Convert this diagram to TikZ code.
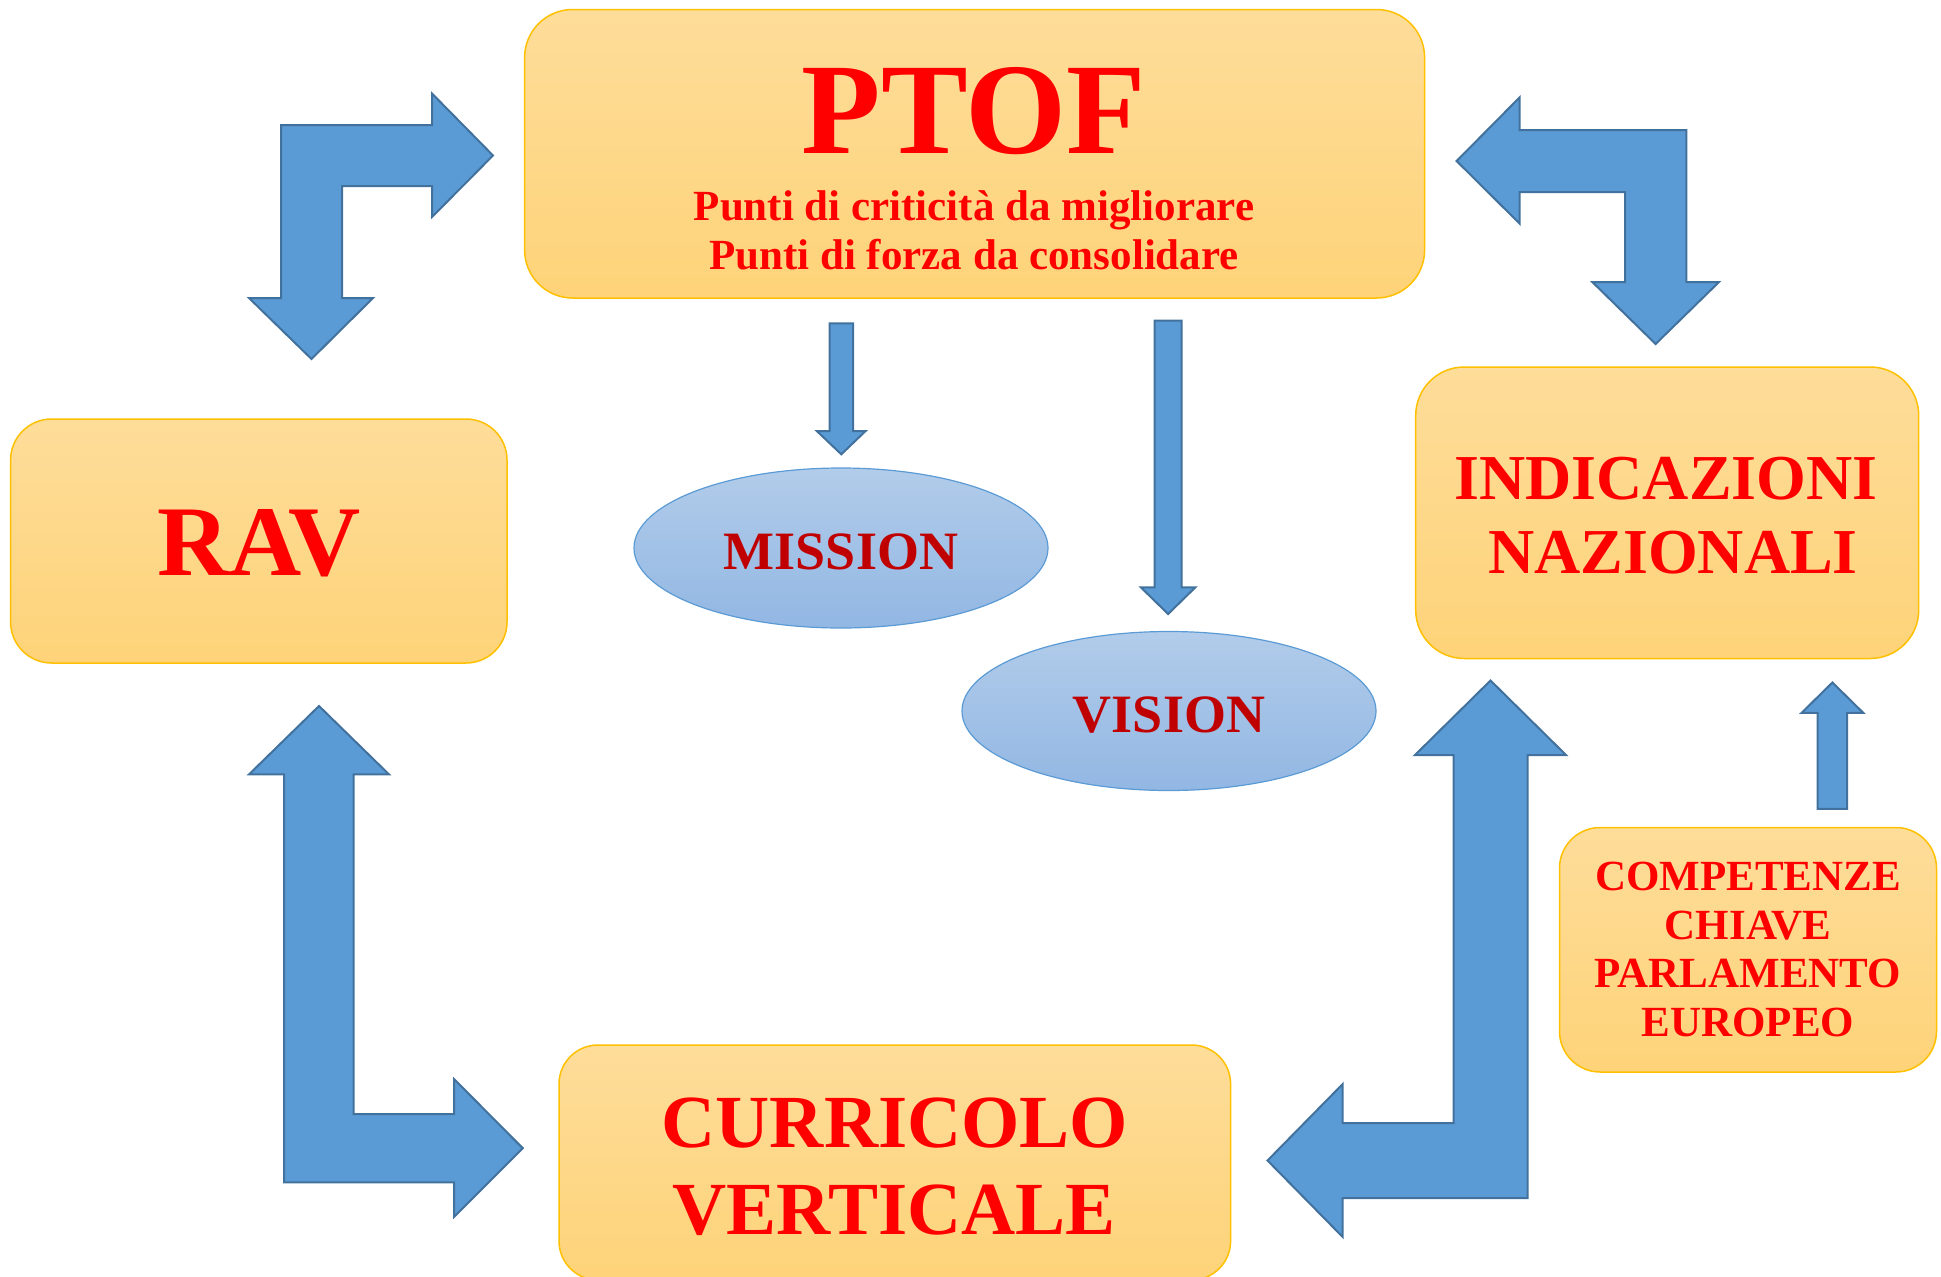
\documentclass[tikz,border=0pt]{standalone}
\usepackage{fontspec}
\setmainfont{Liberation Serif}
\usetikzlibrary{shapes.geometric}
\definecolor{boxtop}{RGB}{254,221,154}
\definecolor{boxbot}{RGB}{254,211,121}
\definecolor{boxline}{RGB}{255,192,0}
\definecolor{elltop}{RGB}{178,204,234}
\definecolor{ellbot}{RGB}{146,183,227}
\definecolor{ellline}{RGB}{91,155,213}
\definecolor{arrfill}{RGB}{91,155,213}
\definecolor{arrline}{RGB}{65,113,156}
\definecolor{txtred}{RGB}{255,0,0}
\definecolor{txtdark}{RGB}{192,0,0}
\tikzset{
  gbox/.style={draw=boxline, line width=1.5pt, top color=boxtop, bottom color=boxbot, inner sep=0pt, outer sep=0pt},
  gell/.style={ellipse, draw=ellline, line width=1.2pt, top color=elltop, bottom color=ellbot, inner sep=0pt, outer sep=0pt},
  blockarrow/.style={fill=arrfill, draw=arrline, line width=2pt, line join=miter},
  lbl/.style={anchor=base, inner sep=0pt, text=txtred, font=\bfseries},
  lbldark/.style={anchor=base, inner sep=0pt, text=txtdark, font=\bfseries},
}
\newcommand{\fsz}[1]{\fontsize{#1}{#1}\selectfont}
\begin{document}
\begin{tikzpicture}[x=1pt,y=-1pt]
\useasboundingbox (0,0) rectangle (1941,1277);
% boxes
\node[gbox, rounded corners=48pt, minimum width=900pt, minimum height=288.5pt] (ptof) at (974.6,153.75) {};
\node[gbox, rounded corners=41pt, minimum width=496.4pt, minimum height=244pt] (rav) at (258.8,541) {};
\node[gbox, rounded corners=48.5pt, minimum width=503pt, minimum height=291.5pt] (ind) at (1667.2,512.75) {};
\node[gbox, rounded corners=39pt, minimum width=671.6pt, minimum height=235pt] (cur) at (894.8,1162.5) {};
\node[gbox, rounded corners=40.7pt, minimum width=377pt, minimum height=244.5pt] (comp) at (1748,949.75) {};
% ellipses
\node[gell, minimum width=414pt, minimum height=160pt] (mission) at (841,548) {};
\node[gell, minimum width=414pt, minimum height=159pt] (vision) at (1169,711) {};
% texts
\node[lbl] (tptof) at (974,153) {\fsz{130}PTOF};
\node[lbl] (tcrit) at (974,220.7) {\fsz{43}Punti di criticità da migliorare};
\node[lbl] (tforz) at (974,269) {\fsz{43}Punti di forza da consolidare};
\node[lbl] (trav) at (259,575.7) {\fsz{100}RAV};
\node[lbl] (tind1) at (1666,499) {\fsz{64}INDICAZIONI};
\node[lbl] (tind2) at (1673,573) {\fsz{64}NAZIONALI};
\node[lbldark] (tmis) at (841,569.3) {\fsz{54}MISSION};
\node[lbldark] (tvis) at (1169,732.7) {\fsz{54}VISION};
\node[lbl] (tcur1) at (895,1147) {\fsz{75}CURRICOLO};
\node[lbl] (tcur2) at (894,1234) {\fsz{75}VERTICALE};
\node[lbl] (tcomp1) at (1748,890) {\fsz{43}COMPETENZE};
\node[lbl] (tcomp2) at (1748,939) {\fsz{43}CHIAVE};
\node[lbl] (tcomp3) at (1748,987.7) {\fsz{43}PARLAMENTO};
\node[lbl] (tcomp4) at (1748,1036) {\fsz{43}EUROPEO};
% block arrows
% RAV <-> PTOF
\draw[blockarrow] (281,125) -- (432,125) -- (432,93.5) -- (493,155.5) -- (432,217) -- (432,186) -- (342,186) -- (342,298) -- (373,298) -- (311.5,359) -- (249,298) -- (281,298) -- cycle;
% PTOF <-> INDICAZIONI
\draw[blockarrow] (1456.6,161) -- (1519.5,97.5) -- (1519.5,130) -- (1686.3,130) -- (1686.3,282) -- (1719,282) -- (1655.6,344) -- (1592.3,282) -- (1625,282) -- (1625,192) -- (1519.5,192) -- (1519.5,223.5) -- cycle;
% RAV <-> CURRICOLO
\draw[blockarrow] (319,706) -- (389,774.4) -- (353.6,774.4) -- (353.6,1114) -- (454,1114) -- (454,1079) -- (522.8,1148.2) -- (454,1217) -- (454,1182.4) -- (284,1182.4) -- (284,774.4) -- (249,774.4) -- cycle;
% INDICAZIONI <-> CURRICOLO
\draw[blockarrow] (1490.5,680.5) -- (1566,755) -- (1527.5,755) -- (1527.5,1198) -- (1342.7,1198) -- (1342.7,1237) -- (1267.5,1160.5) -- (1342.7,1084) -- (1342.7,1123) -- (1453.5,1123) -- (1453.5,755) -- (1415,755) -- cycle;
% COMPETENZE -> INDICAZIONI
\draw[blockarrow] (1832.4,682.5) -- (1863.2,712.8) -- (1847.2,712.8) -- (1847.2,808.8) -- (1817.7,808.8) -- (1817.7,712.8) -- (1801.6,712.8) -- cycle;
% PTOF -> MISSION
\draw[blockarrow] (829.6,323.3) -- (853,323.3) -- (853,431) -- (865.6,431) -- (841.3,454.3) -- (816.8,431) -- (829.6,431) -- cycle;
% PTOF -> VISION
\draw[blockarrow] (1154.6,320.7) -- (1181.6,320.7) -- (1181.6,587.3) -- (1195.4,587.3) -- (1168.1,614) -- (1140.8,587.3) -- (1154.6,587.3) -- cycle;
\end{tikzpicture}
\end{document}
